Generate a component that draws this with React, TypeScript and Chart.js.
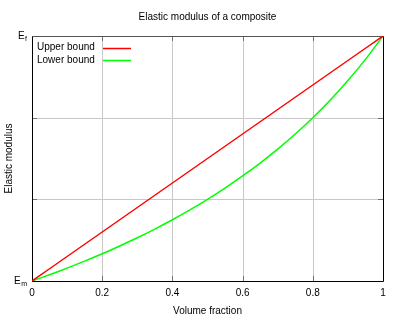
import React, { useEffect, useRef } from "react";
import { Chart, registerables } from "chart.js";

Chart.register(...registerables);

const chartTitle = "Elastic modulus of a composite";
const xAxisTitle = "Volume fraction";
const yAxisTitle = "Elastic modulus";
const seriesNames = ["Upper bound", "Lower bound"];
const seriesColors = ["#ff0000", "#00ff00"];

// volume fraction
const volumeFraction = [0, 0.05, 0.1, 0.15, 0.2, 0.25, 0.3, 0.35, 0.4, 0.45, 0.5, 0.55, 0.6, 0.65, 0.7, 0.75, 0.8, 0.85, 0.9, 0.95, 1];
// modulus (0 = Em, 3 = Ef)
const upperBound = [0, 0.15, 0.3, 0.45, 0.6, 0.75, 0.9, 1.05, 1.2, 1.35, 1.5, 1.65, 1.8, 1.95, 2.1, 2.25, 2.4, 2.55, 2.7, 2.85, 3];
const lowerBound = [0, 0.077, 0.158, 0.243, 0.333, 0.429, 0.529, 0.636, 0.75, 0.871, 1.0, 1.138, 1.286, 1.444, 1.615, 1.8, 2.0, 2.217, 2.455, 2.714, 3];

const xTicks = [0, 0.2, 0.4, 0.6, 0.8, 1];
const xTickLabels = ["0", "0.2", "0.4", "0.6", "0.8", "1"];
const yTicks = [0, 1, 2, 3];
const yTickBase = ["E", "", "", "E"];
const yTickSub = ["m", "", "", "f"];

const FONT = "Liberation Sans, Arial, sans-serif";

const decorPlugin = {
  id: "decor",
  beforeDatasetsDraw(chart: any) {
    const { ctx, chartArea } = chart;
    const { left, right, top, bottom } = chartArea;
    const xs = chart.scales.x;
    const ys = chart.scales.y;
    ctx.save();
    // grid lines
    ctx.strokeStyle = "#c8c8c8";
    ctx.lineWidth = 1;
    xTicks.forEach((v) => {
      if (v === 0 || v === 1) return;
      const px = Math.round(xs.getPixelForValue(v)) + 0.5;
      ctx.beginPath();
      ctx.moveTo(px, top);
      ctx.lineTo(px, bottom);
      ctx.stroke();
    });
    yTicks.forEach((v) => {
      if (v === 0 || v === 3) return;
      const py = Math.round(ys.getPixelForValue(v)) + 0.5;
      ctx.beginPath();
      ctx.moveTo(left, py);
      ctx.lineTo(right, py);
      ctx.stroke();
    });
    // tick marks
    ctx.strokeStyle = "#707070";
    const tl = 5;
    xTicks.forEach((v) => {
      const px = Math.round(xs.getPixelForValue(v)) + 0.5;
      ctx.beginPath();
      ctx.moveTo(px, bottom);
      ctx.lineTo(px, bottom - tl);
      ctx.moveTo(px, top);
      ctx.lineTo(px, top + tl);
      ctx.stroke();
    });
    yTicks.forEach((v) => {
      const py = Math.round(ys.getPixelForValue(v)) + 0.5;
      ctx.beginPath();
      ctx.moveTo(left, py);
      ctx.lineTo(left + tl, py);
      ctx.moveTo(right, py);
      ctx.lineTo(right - tl, py);
      ctx.stroke();
    });
    // border
    ctx.strokeStyle = "#000";
    ctx.beginPath();
    ctx.moveTo(Math.round(left) + 0.5, Math.round(top) + 0.5);
    ctx.lineTo(Math.round(left) + 0.5, Math.round(bottom) + 0.5);
    ctx.lineTo(Math.round(right) + 0.5, Math.round(bottom) + 0.5);
    ctx.lineTo(Math.round(right) + 0.5, Math.round(top) + 0.5);
    ctx.stroke();
    ctx.strokeStyle = "#555";
    ctx.beginPath();
    ctx.moveTo(Math.round(left) + 0.5, Math.round(top) + 0.5);
    ctx.lineTo(Math.round(right) + 0.5, Math.round(top) + 0.5);
    ctx.stroke();
    ctx.restore();
  },
  afterDraw(chart: any) {
    const { ctx, chartArea } = chart;
    const { left, right, top } = chartArea;
    const ys = chart.scales.y;
    ctx.save();
    ctx.fillStyle = "#000";
    // title
    ctx.font = `10px ${FONT}`;
    ctx.textAlign = "center";
    ctx.textBaseline = "middle";
    ctx.fillText(chartTitle, (left + right) / 2, 17);
    // y tick labels with subscripts
    yTicks.forEach((v, i) => {
      if (!yTickBase[i]) return;
      const py = ys.getPixelForValue(v);
      const xr = left - 5;
      ctx.font = `7px ${FONT}`;
      const sw = ctx.measureText(yTickSub[i]).width;
      ctx.textAlign = "right";
      ctx.textBaseline = "middle";
      ctx.fillText(yTickSub[i], xr, py + 3);
      ctx.font = `10px ${FONT}`;
      ctx.fillText(yTickBase[i], xr - sw - 0.5, py);
    });
    // legend
    ctx.font = `10px ${FONT}`;
    ctx.textAlign = "left";
    ctx.textBaseline = "middle";
    seriesNames.forEach((name, i) => {
      const y = top + 11.5 + i * 12.5;
      ctx.fillStyle = "#000";
      ctx.fillText(name, left + 5, y);
      ctx.strokeStyle = seriesColors[i];
      ctx.lineWidth = 1.5;
      ctx.beginPath();
      ctx.moveTo(left + 71, Math.round(y) + 0.5);
      ctx.lineTo(left + 99, Math.round(y) + 0.5);
      ctx.stroke();
    });
    ctx.restore();
  },
};

export default function App() {
  const ref = useRef<HTMLCanvasElement>(null);
  useEffect(() => {
    document.body.style.margin = "0";
    const mk = (ys: number[]) => volumeFraction.map((x, i) => ({ x, y: ys[i] }));
    const chart = new Chart(ref.current!, {
      type: "line",
      data: {
        datasets: [
          { label: seriesNames[0], data: mk(upperBound), borderColor: seriesColors[0], borderWidth: 1.5, pointRadius: 0, fill: false, tension: 0 },
          { label: seriesNames[1], data: mk(lowerBound), borderColor: seriesColors[1], borderWidth: 1.5, pointRadius: 0, fill: false, tension: 0.3 },
        ],
      },
      options: {
        animation: false,
        responsive: false,
        devicePixelRatio: 1,
        layout: { padding: { top: 36, right: 17, left: 0, bottom: 0 } },
        plugins: { legend: { display: false }, title: { display: false }, tooltip: { enabled: false } },
        scales: {
          x: {
            type: "linear",
            min: 0,
            max: 1,
            afterBuildTicks: (s: any) => { s.ticks = xTicks.map((v) => ({ value: v })); },
            afterFit: (s: any) => { s.height = 39; },
            grid: { display: false, drawTicks: false },
            border: { display: false },
            ticks: {
              padding: 6,
              color: "#000",
              font: { family: FONT, size: 10 },
              maxRotation: 0,
              callback: (v: any) => { const i = xTicks.indexOf(Number(v)); return i >= 0 ? xTickLabels[i] : ""; },
            },
            title: { display: true, text: xAxisTitle, color: "#000", font: { family: FONT, size: 10 }, padding: { top: 0, bottom: 3 } },
          },
          y: {
            type: "linear",
            min: 0,
            max: 3,
            afterBuildTicks: (s: any) => { s.ticks = yTicks.map((v) => ({ value: v })); },
            afterFit: (s: any) => { s.width = 32; },
            grid: { display: false, drawTicks: false },
            border: { display: false },
            ticks: { callback: () => "", font: { family: FONT, size: 10 } },
            title: { display: true, text: yAxisTitle, color: "#000", font: { family: FONT, size: 10 }, padding: { top: 3, bottom: 0 } },
          },
        },
      },
      plugins: [decorPlugin],
    } as any);
    return () => chart.destroy();
  }, []);
  return (
    <div style={{ width: 400, height: 320 }}>
      <canvas ref={ref} width={400} height={320} style={{ display: "block" }} />
    </div>
  );
}
